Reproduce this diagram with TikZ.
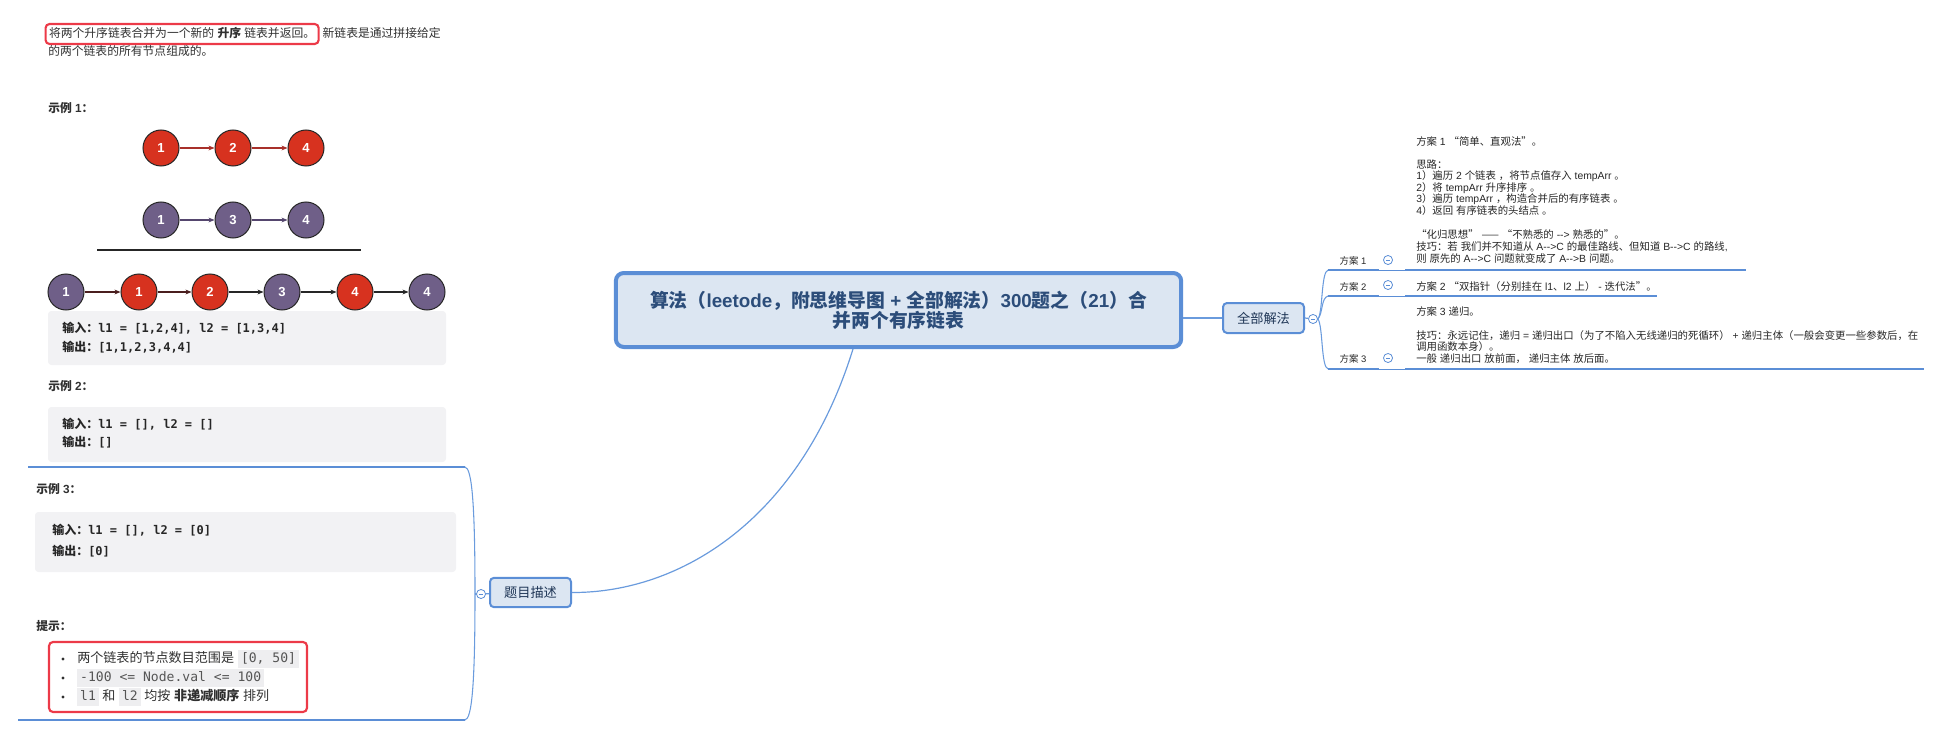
\documentclass[tikz,border=0pt]{standalone}
\usepackage{fontspec}
\usetikzlibrary{arrows.meta}
\newfontfamily\zh{Noto Sans CJK SC}
\newfontfamily\lat{Liberation Sans}
\newfontfamily\mono{DejaVu Sans Mono}

% switch automatically between the Latin and the CJK family
\XeTeXinterchartokenstate=1
\newXeTeXintercharclass\cjkcls
\newcount\cjkc
\def\cjkrange#1#2{\cjkc=#1\relax
  \loop\XeTeXcharclass\cjkc=\cjkcls\relax\ifnum\cjkc<#2\relax\advance\cjkc by 1\repeat}
\cjkrange{"4E00}{"9FFF}
\cjkrange{"3000}{"303F}
\cjkrange{"FF00}{"FFEF}
\cjkrange{"2014}{"2014}
\cjkrange{"2018}{"201D}
\XeTeXinterchartoks 0 \cjkcls = {\zh}
\XeTeXinterchartoks 4095 \cjkcls = {\zh}
\XeTeXinterchartoks \cjkcls 0 = {\lat}
\XeTeXinterchartoks \cjkcls 4095 = {\lat}

\definecolor{mmblue}{HTML}{5B8ED6}
\definecolor{mmline}{HTML}{6A9BDD}
\definecolor{mmfill}{HTML}{DCE6F2}
\definecolor{titlec}{HTML}{2C4D7A}
\definecolor{topicc}{HTML}{1F3656}
\definecolor{listred}{HTML}{D7321F}
\definecolor{listpurple}{HTML}{6F5F88}
\definecolor{inkdark}{HTML}{262626}
\definecolor{arrred}{HTML}{A8302A}
\definecolor{arrpur}{HTML}{55466E}
\definecolor{arrdark}{HTML}{4A1E1E}
\definecolor{codebg}{HTML}{F2F2F4}
\definecolor{icodebg}{HTML}{EEEEF0}
\definecolor{icodec}{HTML}{555555}
\definecolor{bodyc}{HTML}{303030}
\definecolor{hlred}{HTML}{EC3A48}

% inline code chip used in the hints list
\newcommand\icode[1]{{\setlength{\fboxsep}{2.2pt}\colorbox{icodebg}{\mono\color{icodec}\vphantom{[}#1}}}
% "-->" without TeX dash ligatures
\newcommand\dto{-\kern0pt-\kern0pt>}

\tikzset{
  txt/.style={inner sep=0pt, anchor=west},
  body/.style={txt, font=\fontsize{8.85}{13}\selectfont, text=bodyc, text height=7pt, text depth=1.6pt},
  head/.style={body, font=\fontsize{8.85}{13}\selectfont\bfseries},
  code/.style={txt, font=\fontsize{9}{13}\selectfont\bfseries, text=inkdark, text height=7pt, text depth=1.8pt},
  tip/.style={txt, font=\fontsize{9.8}{14}\selectfont, text=bodyc, text height=7.7pt, text depth=1.9pt},
  small/.style={txt, font=\fontsize{7.8}{9}\selectfont, text=inkdark, text height=6.2pt, text depth=1.5pt},
  listnode/.style={circle, draw=inkdark, line width=0.75pt, minimum size=27pt, inner sep=0pt,
    text=white, font=\fontsize{9.8}{10}\selectfont\bfseries},
  nred/.style={listnode, fill=listred},
  npur/.style={listnode, fill=listpurple},
  link/.style={line width=0.8pt, -{Stealth[length=4.5pt,width=3.6pt]}},
  codebox/.style={fill=codebg, rounded corners=2.5pt},
  hlbox/.style={draw=hlred, line width=1.6pt, rounded corners=3pt},
  root/.style={draw=mmblue, fill=mmfill, line width=3pt, rounded corners=6pt,
    minimum width=424pt, minimum height=55.5pt, align=center, text=titlec,
    font=\fontsize{14.1}{15.2}\selectfont\bfseries},
  topic/.style={draw=mmblue, fill=mmfill, line width=1.5pt, rounded corners=3pt,
    minimum width=60.75pt, minimum height=22pt, inner sep=0pt, text=topicc,
    font=\fontsize{9.9}{11}\selectfont},
  collapse/.style={circle, draw=mmblue, fill=white, line width=0.6pt, minimum size=6.8pt, inner sep=0pt,
    path picture={\draw[mmblue, line width=0.5pt]
      ([xshift=-1.7pt]path picture bounding box.center) -- ([xshift=1.7pt]path picture bounding box.center);}},
  branch/.style={draw=mmline, line width=0.9pt},
  brace/.style={draw=mmline, line width=0.8pt},
  ulthick/.style={draw=mmblue, line width=1.7pt},
  ulthin/.style={draw=mmblue, line width=0.6pt},
  sublabel/.style={inner sep=0pt, text=inkdark, font=\fontsize{7.1}{8.8}\selectfont},
}

\begin{document}
\lat
\begin{tikzpicture}[x=0.75pt,y=-0.75pt]
\useasboundingbox (0,0) rectangle (1941,738);

% ---------------- problem statement ----------------
\node[body, hlbox, inner xsep=2.6pt, inner ysep=3.2pt] (introA) at (44.5,34)
  {将两个升序链表合并为一个新的 \textbf{升序} 链表并返回。};
\node[body] (introB) at ([xshift=2pt]introA.east) {新链表是通过拼接给定};
\node[body] (intro2) at (48,52) {的两个链表的所有节点组成的。};

% example 1
\node[head] (ex1) at (48,109) {示例 1：};
\node[nred] (a1) at (161,148) {1};
\node[nred] (a2) at (233,148) {2};
\node[nred] (a3) at (306,148) {4};
\draw[link, arrred] (a1) -- (a2);
\draw[link, arrred] (a2) -- (a3);

\node[npur] (b1) at (161,220) {1};
\node[npur] (b2) at (233,220) {3};
\node[npur] (b3) at (306,220) {4};
\draw[link, arrpur] (b1) -- (b2);
\draw[link, arrpur] (b2) -- (b3);

\coordinate (sepL) at (97,250);
\coordinate (sepR) at (361,250);
\draw[inkdark, line width=1.1pt] (sepL) -- (sepR);

\node[npur] (c1) at (66,292) {1};
\node[nred] (c2) at (139,292) {1};
\node[nred] (c3) at (210,292) {2};
\node[npur] (c4) at (282,292) {3};
\node[nred] (c5) at (355,292) {4};
\node[npur] (c6) at (427,292) {4};
\draw[link, arrdark] (c1) -- (c2);
\draw[link, arrdark] (c2) -- (c3);
\draw[link, inkdark] (c3) -- (c4);
\draw[link, inkdark] (c4) -- (c5);
\draw[link, inkdark] (c5) -- (c6);

\fill[codebox] (48,311) rectangle (446,365);
\node[code] (e1in) at (62,329) {输入：{\mono l1 = [1,2,4], l2 = [1,3,4]}};
\node[code] (e1out) at (62,348) {输出：{\mono [1,1,2,3,4,4]}};

% example 2
\node[head] (ex2) at (48,387) {示例 2：};
\fill[codebox] (48,407) rectangle (446,462);
\node[code] (e2in) at (62,425) {输入：{\mono l1 = [], l2 = []}};
\node[code] (e2out) at (62,443) {输出：{\mono []}};

% example 3
\node[head] (ex3) at (36,490) {示例 3：};
\fill[codebox] (35,512) rectangle (456,572);
\node[code] (e3in) at (52,531) {输入：{\mono l1 = [], l2 = [0]}};
\node[code] (e3out) at (52,552) {输出：{\mono [0]}};

% hints
\node[head] (hint) at (36,627) {提示：};
\draw[hlbox] (49,642) rectangle (307,712);
\foreach \yy in {659,678,697} \fill[bodyc] (63,\yy) circle (1.3pt);
\node[tip] (h1) at (77,659) {两个链表的节点数目范围是\hspace{3pt}\icode{[0, 50]}};
\node[tip] (h2) at (77,678) {\icode{-100 <= Node.val <= 100}};
\node[tip] (h3) at (77,697) {\icode{l1} 和 \icode{l2} 均按 \textbf{非递减顺序} 排列};

% ---------------- mind map ----------------
\node[root] (rootnode) at (898.5,310) {算法（leetode，附思维导图 + 全部解法）300题之（21）合\\并两个有序链表};

% left branch: problem description
\node[topic] (desc) at (530.5,592.5) {题目描述};
\node[collapse] (descc) at (481,594) {};
\coordinate (cbot) at (853,349);
\draw[branch] (cbot) .. controls (800,520) and (680,593) .. (desc.east);
\draw[branch] (descc) -- (desc);

\coordinate (ltop) at (28,467);
\coordinate (tbTop) at (465,467);
\coordinate (lbot) at (18,720);
\coordinate (tbBot) at (465,720);
\draw[ulthick] (ltop) -- (tbTop);
\draw[ulthick] (lbot) -- (tbBot);
\draw[brace] (tbTop) .. controls (472,468) and (475,505) .. (475,594)
  .. controls (475,683) and (472,719) .. (tbBot);
\draw[brace] (475,594) -- (descc.west);

% right branch: all solutions
\node[topic, minimum height=22.5pt] (allsol) at (1263.5,318) {全部解法};
\node[collapse] (allc) at (1313,319) {};
\draw[branch, line width=1.2pt] (rootnode.east |- allsol.west) -- (allsol.west);
\draw[branch] (allsol.east) -- (allc);

\coordinate (s1a) at (1328,270);
\coordinate (s2a) at (1328,296);
\coordinate (s3a) at (1328,369);
\draw[brace] (allc.east) .. controls (1323,312) and (1321,272) .. (s1a);
\draw[brace] (allc.east) .. controls (1323,313) and (1321,298) .. (s2a);
\draw[brace] (allc.east) .. controls (1323,326) and (1321,367) .. (s3a);

% solution 1
\node[sublabel] (s1lab) at (1353,261) {方案 1};
\node[collapse] (s1c) at (1388,260) {};
\draw[ulthick] (s1a) -- (1379,270);
\draw[ulthin] (1379,270) -- (1405,270);
\draw[ulthick] (1405,270) -- (1746,270);
\node[small] (s1t0) at (1416,142) {方案 1 “简单、直观法”。};
\node[small] (s1t2) at (1416,165) {思路：};
\node[small] (s1t3) at (1416,176.5) {1）遍历 2 个链表 ，将节点值存入 tempArr 。};
\node[small] (s1t4) at (1416,188) {2）将 tempArr 升序排序 。};
\node[small] (s1t5) at (1416,199.5) {3）遍历 tempArr ，构造合并后的有序链表 。};
\node[small] (s1t6) at (1416,211) {4）返回 有序链表的头结点 。};
\node[small] (s1t8) at (1416,235.5) {“化归思想” —— “不熟悉的 \dto{} 熟悉的”。};
\node[small] (s1t9) at (1416,247.5) {技巧：若 我们并不知道从 A\dto C 的最佳路线、但知道 B\dto C 的路线,};
\node[small] (s1t10) at (1416,259.5) {则 原先的 A\dto C 问题就变成了 A\dto B 问题。};

% solution 2
\node[sublabel] (s2lab) at (1353,287) {方案 2};
\node[collapse] (s2c) at (1388,285) {};
\draw[ulthick] (s2a) -- (1379,296);
\draw[ulthin] (1379,296) -- (1405,296);
\draw[ulthick] (1405,296) -- (1657,296);
\node[small] (s2t0) at (1416,287) {方案 2 “双指针（分别挂在 l1、l2 上） - 迭代法”。};

% solution 3
\node[sublabel] (s3lab) at (1353,359) {方案 3};
\node[collapse] (s3c) at (1388,358) {};
\draw[ulthick] (s3a) -- (1379,369);
\draw[ulthin] (1379,369) -- (1405,369);
\draw[ulthick] (1405,369) -- (1924,369);
\node[small] (s3t0) at (1416,312) {方案 3 递归。};
\node[small] (s3t2) at (1416,336) {技巧：永远记住，递归 = 递归出口（为了不陷入无线递归的死循环） + 递归主体（一般会变更一些参数后，在};
\node[small] (s3t3) at (1416,347.5) {调用函数本身）。};
\node[small] (s3t4) at (1416,359) {一般 递归出口 放前面， 递归主体 放后面。};
\end{tikzpicture}
\end{document}
